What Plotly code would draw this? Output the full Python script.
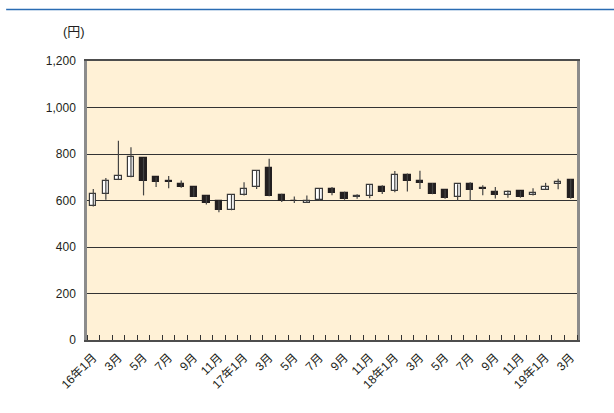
import plotly.graph_objects as go

# Monthly share price candles, Jan 2016 - Mar 2019 (yen)
months = [f"{y}-{m:02d}" for y in (2016, 2017, 2018) for m in range(1, 13)] + ["2019-01", "2019-02", "2019-03"]

open_ = [578, 628, 690, 703, 781, 699, 682, 672, 657, 619, 597, 561,
         623, 658, 741, 625, 600, 590, 602, 650, 634, 615, 620, 658,
         640, 708, 685, 672, 645, 613, 672, 655, 637, 625, 640, 623,
         647, 671, 689]
high = [650, 697, 857, 829, 783, 700, 705, 686, 658, 620, 600, 625,
        679, 731, 780, 629, 617, 621, 650, 658, 638, 627, 670, 666,
        727, 716, 728, 675, 646, 670, 679, 666, 658, 643, 641, 653,
        676, 694, 691]
low = [574, 603, 688, 700, 622, 658, 653, 655, 616, 583, 550, 558,
       621, 649, 618, 594, 589, 589, 600, 623, 603, 608, 610, 628,
       636, 639, 649, 627, 608, 599, 600, 623, 609, 612, 612, 622,
       646, 648, 608]
close = [628, 682, 705, 785, 685, 679, 680, 656, 617, 591, 560, 623,
         650, 729, 620, 596, 598, 600, 649, 632, 607, 618, 668, 636,
         709, 686, 677, 629, 612, 669, 646, 650, 625, 636, 613, 634,
         660, 681, 609]

tick_labels = ["16年1月", "3月", "5月", "7月", "9月", "11月",
               "17年1月", "3月", "5月", "7月", "9月", "11月",
               "18年1月", "3月", "5月", "7月", "9月", "11月",
               "19年1月", "3月"]

xs = list(range(len(months)))

# wicks: one segment per month, separated by gaps
wx, wy = [], []
for i in xs:
    wx += [i, i, None]
    wy += [low[i], high[i], None]

body_base = [min(o, c) for o, c in zip(open_, close)]
body_len = [abs(c - o) for o, c in zip(open_, close)]
rising = [c >= o for o, c in zip(open_, close)]
fill = ["#ffffff" if r else "#231f20" for r in rising]
edge = ["#3a3a3a" if r else "#231f20" for r in rising]

fig = go.Figure()
fig.add_trace(go.Scatter(x=wx, y=wy, mode="lines",
                         line=dict(color="#444444", width=1.2),
                         hoverinfo="skip", showlegend=False))
fig.add_trace(go.Bar(x=xs, y=body_len, base=body_base, width=0.5,
                     marker=dict(color=fill, line=dict(color=edge, width=1.2)),
                     customdata=list(zip(months, open_, high, low, close)),
                     hovertemplate="%{customdata[0]}<br>始値 %{customdata[1]}<br>高値 %{customdata[2]}"
                                   "<br>安値 %{customdata[3]}<br>終値 %{customdata[4]}<extra></extra>",
                     showlegend=False))

font_family = "Liberation Sans, Arial, Noto Sans CJK JP, sans-serif"

fig.update_layout(
    width=614, height=413,
    margin=dict(l=87, r=37, t=61, b=73),
    paper_bgcolor="#ffffff",
    plot_bgcolor="#fff1d6",
    font=dict(family=font_family, size=12, color="#231f20"),
    bargap=0,
)

fig.update_xaxes(
    range=[-0.5, len(months) - 0.5],
    tickmode="array",
    tickvals=xs[::2],
    ticktext=tick_labels,
    tickangle=-45,
    ticks="",
    ticklabelstandoff=4,
    showgrid=False,
    zeroline=False,
    showline=True, linecolor="#4d4d4d", linewidth=1.5, mirror=True,
    minor=dict(tickmode="linear", tick0=0.5, dtick=1,
               ticks="inside", ticklen=5, tickcolor="#333333", tickwidth=1,
               showgrid=False),
    tickfont=dict(size=12),
)

fig.update_yaxes(
    range=[0, 1200],
    tickmode="linear", tick0=0, dtick=200,
    tickformat=",d",
    ticks="",
    ticklabelstandoff=6,
    showgrid=True, gridcolor="#333333", gridwidth=1,
    zeroline=False,
    showline=True, linecolor="#8c8c8c", linewidth=2.5, mirror=True,
    tickfont=dict(size=12),
)

# unit label above the value axis
fig.add_annotation(text="(円)", xref="paper", yref="paper",
                   x=-0.026, y=1.104, xanchor="center", yanchor="middle",
                   showarrow=False, font=dict(size=13, color="#231f20"))

# blue rule across the top of the figure
fig.add_shape(type="line", xref="paper", yref="paper",
              x0=-0.165, x1=1.08, y0=1.185, y1=1.185,
              line=dict(color="#2a6cb3", width=1.5))

fig.write_html("out.html")
